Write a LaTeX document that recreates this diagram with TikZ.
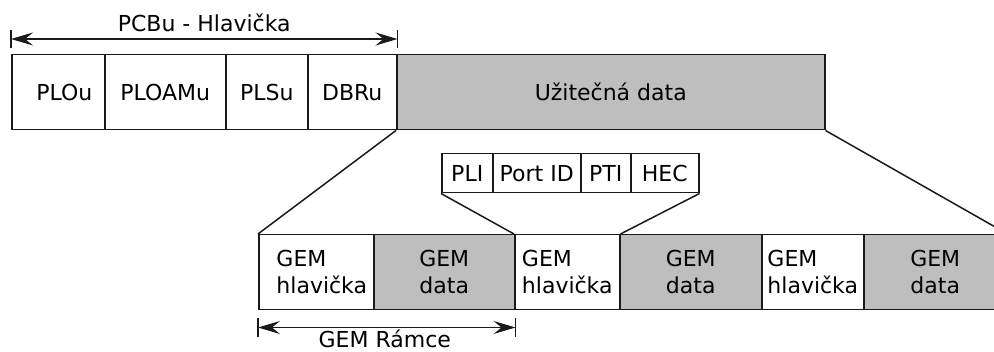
\documentclass[tikz,border=0pt]{standalone}
\usepackage{fontspec}
\setmainfont{DejaVu Sans}
\usetikzlibrary{arrows.meta,calc}
\definecolor{boxgray}{RGB}{190,190,190}
\definecolor{linec}{RGB}{26,26,26}
\begin{document}
\begin{tikzpicture}[x=1pt,y=-1pt,
  box/.style={draw=linec,line width=1.5pt,rectangle,inner sep=0pt,anchor=north west,
    font=\fontsize{22}{27}\selectfont,align=left},
  grayb/.style={box,fill=boxgray,align=center},
  conn/.style={draw=linec,line width=1.5pt},
  dimline/.style={draw=linec,line width=1.2pt,>={Stealth[length=22pt,width=13pt,inset=8pt]},<->},
  tickline/.style={draw=linec,line width=1.2pt},
  lbl/.style={font=\fontsize{22}{27}\selectfont,inner sep=0pt,anchor=base}]
\useasboundingbox (0,0) rectangle (994,352);
\clip (0,0) rectangle (994,352);

% top row
\node[box,minimum width=93pt,minimum height=75pt] (p1) at (11,54) {\hspace*{12pt}PLOu};
\node[box,minimum width=121pt,minimum height=75pt] (p2) at (104,54) {PLOAMu};
\node[box,minimum width=82pt,minimum height=75pt] (p3) at (225,54) {PLSu};
\node[box,minimum width=89pt,minimum height=75pt] (p4) at (307,54) {DBRu};
\node[grayb,minimum width=428pt,minimum height=75pt] (d) at (396,54) {Užitečná data};

% GEM header fields
\node[box,minimum width=51pt,minimum height=39pt] (h1) at (441,153) {PLI};
\node[box,minimum width=88pt,minimum height=39pt] (h2) at (492,153) {Port ID};
\node[box,minimum width=50pt,minimum height=39pt] (h3) at (580,153) {PTI};
\node[box,minimum width=68pt,minimum height=39pt] (h4) at (630,153) {HEC};

% bottom row
\node[box,minimum width=115pt,minimum height=75pt] (g1) at (258,234) {\hspace*{11pt}GEM\\\hspace*{11pt}hlavička};
\node[grayb,minimum width=141pt,minimum height=75pt] (g2) at (373,234) {GEM\\data};
\node[box,minimum width=105pt,minimum height=75pt] (g3) at (514,234) {GEM\\hlavička};
\node[grayb,minimum width=142pt,minimum height=75pt] (g4) at (619,234) {GEM\\data};
\node[box,minimum width=102pt,minimum height=75pt] (g5) at (761,234) {GEM\\hlavička};
\node[grayb,minimum width=143pt,minimum height=75pt] (g6) at (863,234) {GEM\\data};

% connectors
\draw[conn] (d.south west) -- (g1.north west);
\draw[conn] (d.south east) -- (g6.north east);
\draw[conn] (h1.south west) -- (g3.north west);
\draw[conn] (h4.south east) -- (g3.north east);

% top dimension
\coordinate (ta1) at ($(p1.north west)+(0,-24)$);
\coordinate (ta2) at ($(p1.north west)+(0,-6)$);
\coordinate (tb1) at ($(p4.north east)+(0,-24)$);
\coordinate (tb2) at ($(p4.north east)+(0,-6)$);
\coordinate (tal) at ($(p1.north west)+(0,-15)$);
\coordinate (tbl) at ($(p4.north east)+(0,-15)$);
\draw[tickline] (ta1) -- (ta2);
\draw[tickline] (tb1) -- (tb2);
\draw[dimline] (tal) -- (tbl);
\node[lbl] (toplbl) at ($($(tal)!0.5!(tbl)$)+(0,-7)$) {PCBu - Hlavička};

% bottom dimension
\coordinate (ba1) at ($(g1.south west)+(0,8)$);
\coordinate (ba2) at ($(g1.south west)+(0,27)$);
\coordinate (bb1) at ($(g2.south east)+(0,8)$);
\coordinate (bb2) at ($(g2.south east)+(0,27)$);
\coordinate (bal) at ($(g1.south west)+(0,17)$);
\coordinate (bbl) at ($(g2.south east)+(0,17)$);
\draw[tickline] (ba1) -- (ba2);
\draw[tickline] (bb1) -- (bb2);
\draw[dimline] (bal) -- (bbl);
\node[lbl] (botlbl) at ($($(bal)!0.5!(bbl)$)+(-2,20)$) {GEM Rámce};
\end{tikzpicture}
\end{document}
